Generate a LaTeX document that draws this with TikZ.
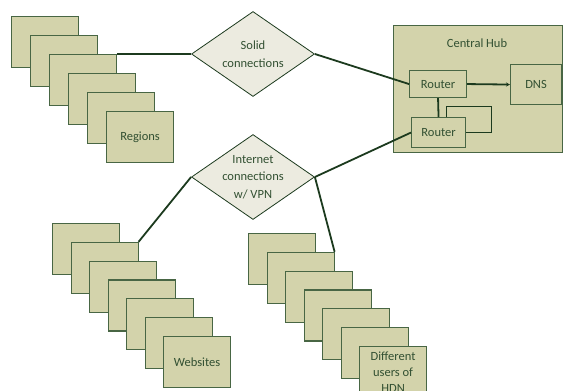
\documentclass[tikz,border=0pt]{standalone}
\usepackage{fontspec}
\setmainfont{Carlito}
\usetikzlibrary{shapes.geometric,arrows.meta}
\definecolor{boxfill}{RGB}{211,211,171}
\definecolor{diafill}{RGB}{236,235,224}
\definecolor{boxline}{RGB}{72,102,68}
\definecolor{txtcol}{RGB}{50,80,50}
\definecolor{conn}{RGB}{28,58,30}
\begin{document}
\begin{tikzpicture}[x=1pt,y=-1pt,
  base/.style={draw=boxline, line width=1.1pt, fill=boxfill, inner sep=0pt, anchor=north west,
    text=txtcol, font=\fontsize{12.5}{16}\selectfont, align=center},
  stackbox/.style={base, minimum width=67pt, minimum height=51pt},
  dia/.style={diamond, draw=conn, line width=0.8pt, fill=diafill, minimum width=123pt, minimum height=85pt, inner sep=0pt},
  diatext/.style={text=txtcol, font=\fontsize{12.5}{17.5}\selectfont, align=center},
  conline/.style={draw=conn, line width=1.8pt},
  thinline/.style={draw=conn, line width=0.9pt}]
\useasboundingbox (0,0) rectangle (563,391);
% Regions stack
\foreach \i in {1,...,5}{
  \node[stackbox] (reg\i) at ({11+19*(\i-1)},{16+19*(\i-1)}) {};
}
\node[stackbox] (reg6) at (106,111) {Regions};
% Websites stack
\foreach \i in {1,...,6}{
  \node[stackbox] (web\i) at ({52+18.5*(\i-1)},{223+18.8*(\i-1)}) {};
}
\node[stackbox] (web7) at (163,336) {Websites};
% Users stack
\foreach \i in {1,...,6}{
  \node[stackbox] (usr\i) at ({248+18.5*(\i-1)},{233+18.8*(\i-1)}) {};
}
\node[stackbox] (usr7) at (359,346) {Different\\users of\\HDN};
% Diamonds
\node[dia] (solid) at (253,54) {};
\node[diatext] (solidtxt) at (solid.center) {Solid\\connections};
\node[dia] (inet) at (253,177) {};
\node[diatext] (inettxt) at (inet.center) {Internet\\connections\\w/ VPN};
% Central hub
\node[base, minimum width=169pt, minimum height=127pt] (hub) at (393,25) {};
\node[text=txtcol, font=\fontsize{12.5}{16}\selectfont] (hubtxt) at (477,43) {Central Hub};
\node[base, minimum width=57pt, minimum height=27pt] (r1) at (409,70) {Router};
\node[base, minimum width=54pt, minimum height=30pt] (r2) at (411,117) {Router};
\node[base, minimum width=51pt, minimum height=40pt] (dns) at (510,64) {DNS};
% Connectors
\draw[conline] (reg3.north east) -- (solid.west);
\draw[conline] (solid.east) -- (r1.west);
\draw[conline] (r2.west) -- (inet.east);
\draw[conline] (inet.west) -- (web2.north east);
\draw[conline] (inet.east) -- (usr2.north east);
\draw[conline] (r1.south) -- (r2.north);
\draw[conline, -{Stealth[length=4pt,width=4pt]}] (r1.east) -- (dns.west);
\draw[thinline] ([xshift=8pt]r2.north) |- (491,106) |- (r2.east);
\end{tikzpicture}
\end{document}
